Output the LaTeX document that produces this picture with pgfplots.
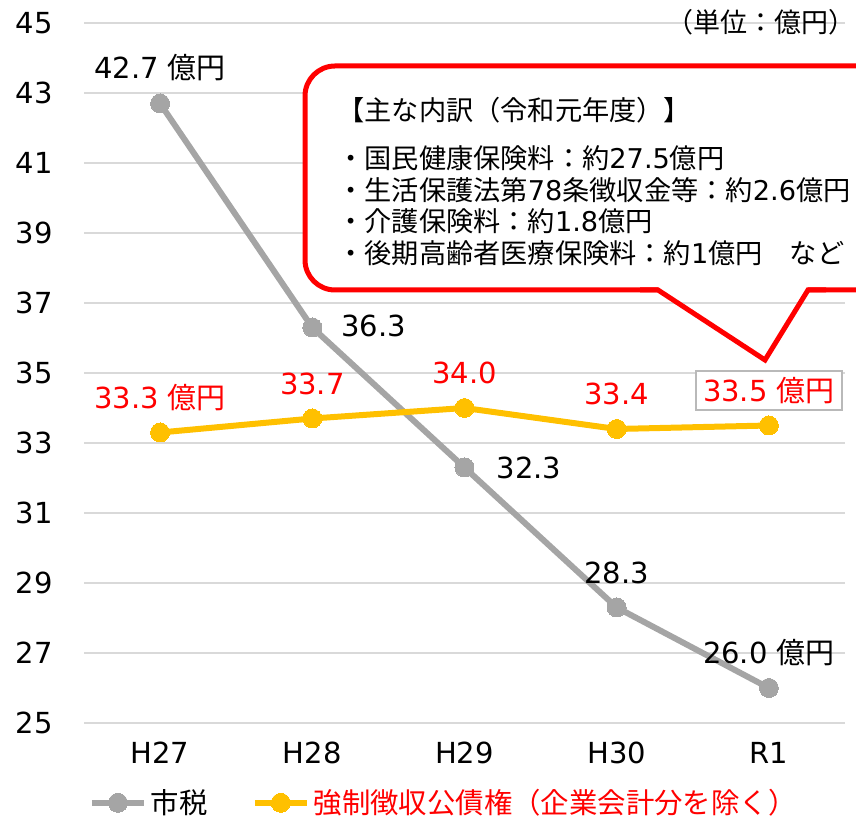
\documentclass[border=0pt]{standalone}
\usepackage{pgfplots}
\pgfplotsset{compat=1.18}
\usepackage{fontspec}
\setmainfont{DejaVu Sans}
\newfontfamily\jp{Noto Sans CJK JP}
\newcommand{\J}[1]{{\jp #1}}
\definecolor{grayc}{HTML}{A5A5A5}
\definecolor{goldc}{HTML}{FFC000}
\definecolor{gridc}{HTML}{D9D9D9}
\definecolor{redc}{HTML}{FF0000}
\newcommand{\fs}{\fontsize{14.5}{17}\selectfont}
\newcommand{\fb}{\fontsize{13.6}{16}\selectfont}
\begin{document}
\begin{tikzpicture}[x=0.5pt,y=0.5pt]
\useasboundingbox (0,0) rectangle (856,819);
\clip (0,0) rectangle (856,819);
\begin{axis}[
  at={(42pt,48pt)}, anchor=south west,
  scale only axis, width=380.5pt, height=350pt,
  xmin=-0.5, xmax=4.5, ymin=25, ymax=45,
  xtick={0,1,2,3,4}, xticklabels={H27,H28,H29,H30,R1},
  ytick={25,27,29,31,33,35,37,39,41,43,45},
  ymajorgrids, grid style={gridc, line width=0.8pt},
  axis line style={draw=none},
  major tick length=0pt,
  tick label style={font=\fs, text=black},
  /pgf/number format/assume math mode=true,
  yticklabel style={anchor=east, inner sep=0pt, xshift=-15.5pt},
  xticklabel style={anchor=north, inner sep=0pt, yshift=-9.5pt},
  clip=false,
  legend columns=2,
  legend style={draw=none, fill=none, at={(axis description cs:0.006,-0.114)}, anchor=west,
    font=\fontsize{14.2}{16}\selectfont, inner sep=0pt,
    /tikz/every even column/.append style={column sep=20pt}},
  legend image code/.code={\draw[#1, mark repeat=2, mark phase=2] plot coordinates {(0pt,0pt) (13pt,0pt) (26pt,0pt)};},
]
\addplot[color=grayc, line width=3pt, mark=*, mark size=4.75pt, mark options={fill=grayc, draw=grayc, line width=0pt}]
  coordinates {(0,42.7) (1,36.3) (2,32.3) (3,28.3) (4,26.0)};
\addlegendentry{\J{市税}}
\addplot[color=goldc, line width=3pt, mark=*, mark size=4.75pt, mark options={fill=goldc, draw=goldc, line width=0pt}]
  coordinates {(0,33.3) (1,33.7) (2,34.0) (3,33.4) (4,33.5)};
\addlegendentry{\textcolor{redc}{\J{強制徴収公債権（企業会計分を除く）}}}

% labels for 市税
\node[font=\fs, yshift=18pt] at (axis cs:0,42.7) {42.7 \J{億円}};
\node[font=\fs, anchor=west, xshift=11pt, yshift=1pt] at (axis cs:1,36.3) {36.3};
\node[font=\fs, anchor=west, xshift=12.5pt] at (axis cs:2,32.3) {32.3};
\node[font=\fs, yshift=17.5pt] at (axis cs:3,28.3) {28.3};
\node[font=\fs, yshift=17.5pt] at (axis cs:4,26.0) {26.0 \J{億円}};
% labels for 強制徴収
\node[font=\fs, text=redc, yshift=17.5pt] at (axis cs:0,33.3) {33.3 \J{億円}};
\node[font=\fs, text=redc, yshift=17.5pt] at (axis cs:1,33.7) {33.7};
\node[font=\fs, text=redc, yshift=17.5pt] at (axis cs:2,34.0) {34.0};
\node[font=\fs, text=redc, yshift=17.5pt] at (axis cs:3,33.4) {33.4};
\node[font=\fs, text=redc, yshift=17.5pt, draw=gray!55, line width=0.8pt, fill=white, inner xsep=3.5pt, inner ysep=3pt] at (axis cs:4,33.5) {33.5 \J{億円}};
\end{axis}

% unit label
\node[anchor=east, inner sep=0pt, font=\fontsize{13.5}{15}\selectfont\jp] at (856,797) {（単位：億円）};

% callout
\fill[white, rounded corners=15pt] (305,529) rectangle (900,753);
\draw[redc, line width=2.5pt, rounded corners=15pt] (658,529) -- (305,529) -- (305,753) -- (900,753) -- (900,529) -- (808,529);
\draw[redc, line width=2.5pt, line join=miter] (640,529) -- (658,529) -- (765,459) -- (808,529) -- (826,529);

\node[anchor=west, inner sep=0pt, font=\fb] at (337,709) {\J{【主な内訳（令和元年度）】}};
\node[anchor=west, inner sep=0pt, font=\fb] at (337,661) {\J{・国民健康保険料：約}27.5\J{億円}};
\node[anchor=west, inner sep=0pt, font=\fb] at (337,629) {\J{・生活保護法第}78\J{条徴収金等：約}2.6\J{億円}};
\node[anchor=west, inner sep=0pt, font=\fb] at (337,598) {\J{・介護保険料：約}1.8\J{億円}};
\node[anchor=west, inner sep=0pt, font=\fb] at (337,566) {\J{・後期高齢者医療保険料：約}1\J{億円　など}};
\end{tikzpicture}
\end{document}
